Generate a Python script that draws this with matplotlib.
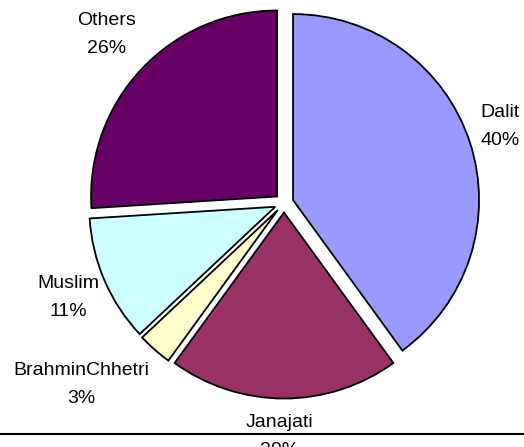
import numpy as np
import matplotlib
matplotlib.use("Agg")
import matplotlib.pyplot as plt

plt.rcParams["font.family"] = ["Liberation Sans", "DejaVu Sans"]

groups = ["Dalit", "Janajati", "BrahminChhetri", "Muslim", "Others"]
shares = [40, 20, 3, 11, 26]
colors = ["#9999FF", "#993366", "#FFFFCC", "#CCFFFF", "#660066"]

# label placement (pixels from centre, degrees added to slice mid-angle)
label_dist = [229, 234, 272, 236, 245]
label_turn = [1.5, -1.0, -6.7, 0.3, -0.3]

W, H = 524, 447
cx, cy = 284, H - 203
r = 186

fig = plt.figure(figsize=(W / 100, H / 100), dpi=100)
ax = fig.add_axes([0, 0, 1, 1])

# explode is in data units here (radius is not 1)
ax.pie(shares, colors=colors, startangle=90, counterclock=False,
       center=(cx, cy), radius=r, explode=[9.5] * len(shares),
       wedgeprops=dict(edgecolor="black", linewidth=1.3), frame=True)
ax.set_xlim(0, W)
ax.set_ylim(0, H)
ax.axis("off")

# slice mid angles (clockwise from 90 deg)
cum = np.cumsum([0] + shares)
total = sum(shares)
for i, name in enumerate(groups):
    mid = 90 - 360 * (cum[i] + cum[i + 1]) / 2 / total + label_turn[i]
    lx = cx + label_dist[i] * np.cos(np.radians(mid))
    ly = cy + label_dist[i] * np.sin(np.radians(mid))
    ax.text(lx, ly + 14, name, ha="center", va="center", fontsize=14, color="black")
    ax.text(lx, ly - 14, f"{shares[i]}%", ha="center", va="center", fontsize=14, color="black")

ax.axhline(H - 433.5, color="black", lw=1.5, xmin=0, xmax=1)

fig.savefig("out.png", dpi=100)
